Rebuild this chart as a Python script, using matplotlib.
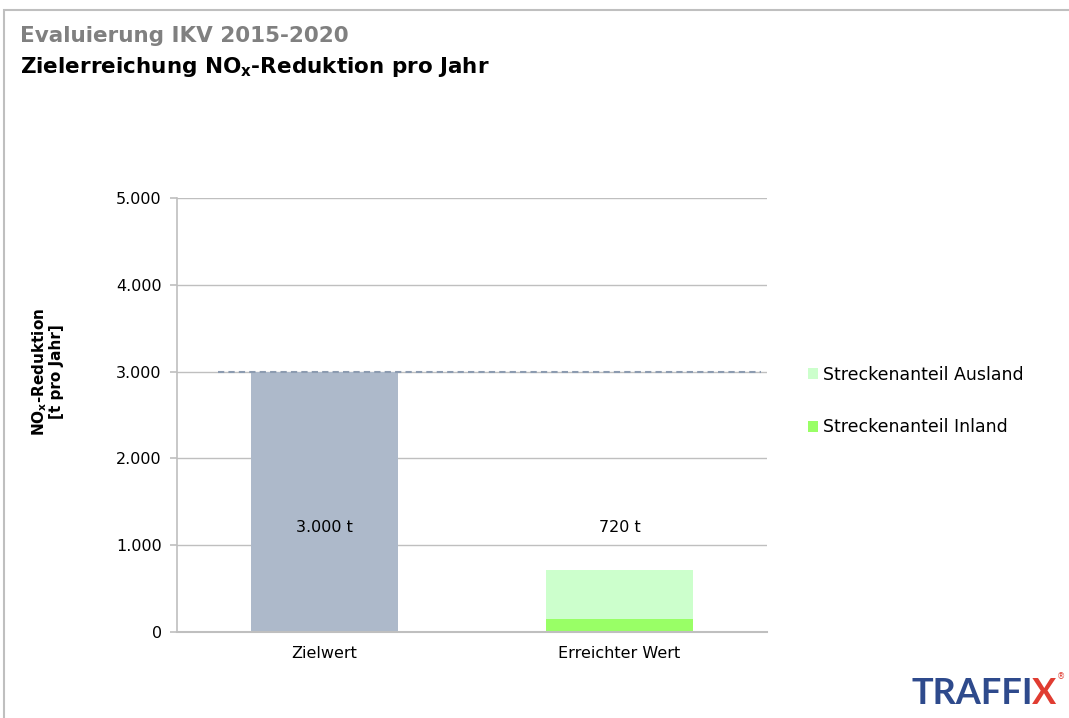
import matplotlib.pyplot as plt
import matplotlib
from matplotlib.patches import Rectangle

matplotlib.rcParams['font.family'] = ['DejaVu Sans']

# data
categories = ['Zielwert', 'Erreichter Wert']
ziel = [3000, 0]
inland = [0, 150]
ausland = [0, 570]
bar_labels = ['3.000 t', '720 t']
target = 3000
yticks = [0, 1000, 2000, 3000, 4000, 5000]
ytick_labels = ['0', '1.000', '2.000', '3.000', '4.000', '5.000']

fig = plt.figure(figsize=(10.69, 7.18), dpi=100)
ax = fig.add_axes([177 / 1069, 1 - 632 / 718, 590 / 1069, 434 / 718])

x = range(len(categories))
ax.bar(x, ziel, width=0.5, color='#ADB9CA', zorder=2)
ax.bar(x, inland, width=0.5, color='#99FF66', zorder=2, label='Streckenanteil Inland')
ax.bar(x, ausland, width=0.5, bottom=inland, color='#CCFFCC', zorder=2,
       label='Streckenanteil Ausland')

# dashed target line
ax.plot([-0.36, 1.48], [target, target], ls=(0, (3, 2)), color='#8C9BB0', lw=1.5, zorder=3)

for i, t in enumerate(bar_labels):
    ax.text(i, 1200, t, ha='center', va='center', fontsize=11.5, color='#000000', zorder=4)

ax.set_xlim(-0.5, 1.5)
ax.set_ylim(0, 5000)
ax.set_yticks(yticks)
ax.set_yticklabels(ytick_labels, fontsize=11.5)
ax.set_xticks(list(x))
ax.set_xticklabels(categories, fontsize=11.5)
ax.tick_params(axis='x', length=0, pad=10)
ax.tick_params(axis='y', length=5, color='#BFBFBF', width=1.2, pad=6)
ax.grid(axis='y', color='#BFBFBF', lw=1, zorder=0)
for s in ['top', 'right']:
    ax.spines[s].set_visible(False)
ax.spines['left'].set_color('#BFBFBF')
ax.spines['left'].set_linewidth(1.2)
ax.spines['bottom'].set_color('#BFBFBF')
ax.spines['bottom'].set_linewidth(1.5)

fig.text(47 / 1069, 1 - 372 / 718, 'NO$_\\mathregular{x}$-Reduktion\n[t pro Jahr]', fontsize=11,
         fontweight='bold', rotation=90, ha='center', va='center', linespacing=1.0,
         multialignment='center')

# legend: Ausland above Inland
h, l = ax.get_legend_handles_labels()
leg = fig.legend(h[::-1], l[::-1], loc='center left', bbox_to_anchor=(792 / 1069, 1 - 401 / 718),
                 frameon=False, fontsize=12.5, handlelength=0.6, handleheight=0.6,
                 handletextpad=0.3, labelspacing=2.0)

# titles
fig.text(20 / 1069, 1 - 36 / 718, 'Evaluierung IKV 2015-2020', fontsize=15.5, fontweight='bold',
         color='#808080', va='center')
fig.text(20 / 1069, 1 - 67 / 718, 'Zielerreichung NO$_\\mathregular{x}$-Reduktion pro Jahr',
         fontsize=15.5, fontweight='bold', color='#000000', va='center')

# frame
fig.add_artist(Rectangle((4 / 1069, -0.01), 1.1, 1 - 10 / 718 + 0.01, transform=fig.transFigure,
                         fill=False, edgecolor='#BFBFBF', lw=1.5))

# logo
fig.text(1033 / 1069, 1 - 693 / 718, 'TRAFFI', fontsize=26, color='#2E4A8C', ha='right',
         va='center', fontweight='bold', family='Lato')
fig.text(1032 / 1069, 1 - 693 / 718, 'X', fontsize=26, color='#E03C31', ha='left',
         va='center', fontweight='bold', family='Lato')
fig.text(1061 / 1069, 1 - 677 / 718, '®', fontsize=6, color='#E03C31', ha='center', va='center')

fig.savefig('out.png', dpi=100)
